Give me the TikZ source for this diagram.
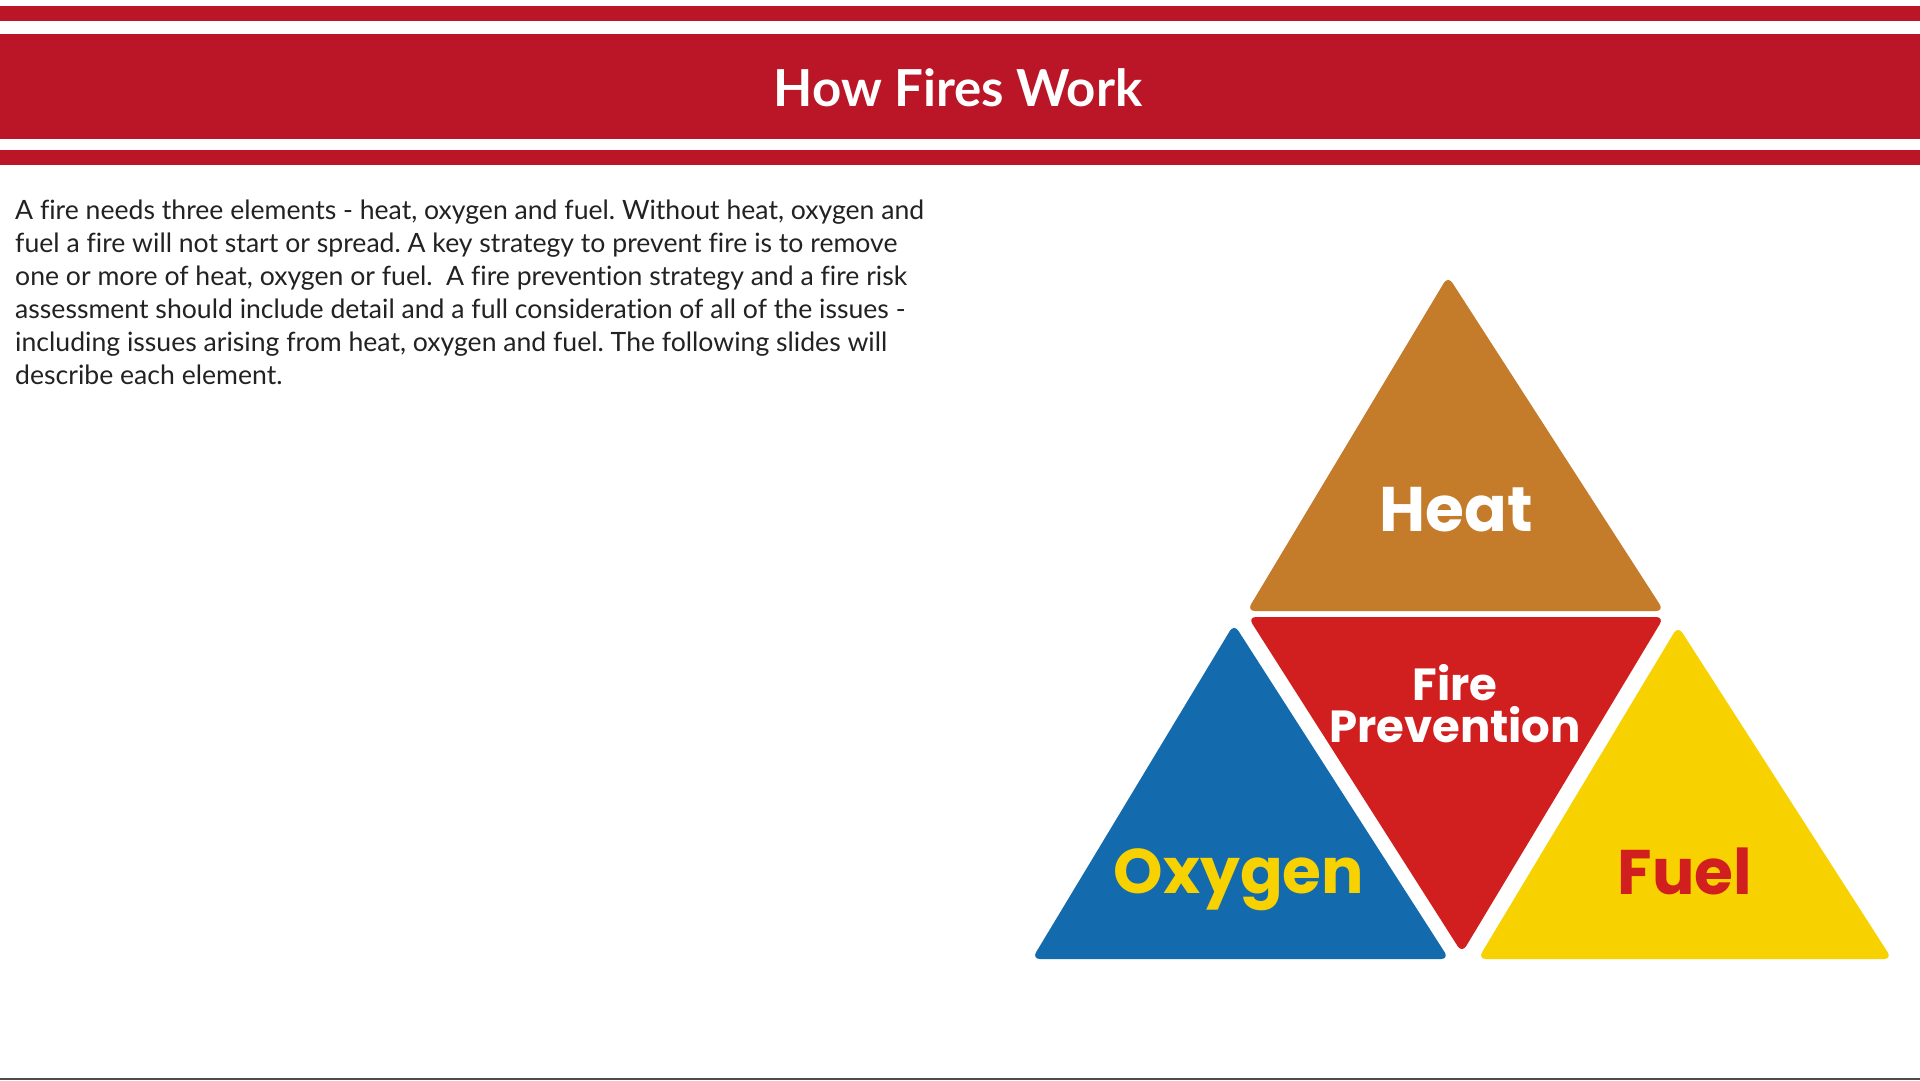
\documentclass[tikz,border=0pt]{standalone}
\usepackage{fontspec}
\setmainfont{Lato}[Ligatures={NoCommon}]
\newfontfamily\pop{Poppins}
\definecolor{hdr}{HTML}{BA1628}
\definecolor{heatc}{HTML}{C47C2B}
\definecolor{firec}{HTML}{D11E1F}
\definecolor{oxyc}{HTML}{136BAE}
\definecolor{fuelc}{HTML}{F7D100}
\definecolor{bodyc}{HTML}{222222}
\tikzset{
  titletext/.style={text=white,font=\bfseries\fontsize{51}{60}\selectfont,inner sep=0pt},
  bodyline/.style={anchor=base west,text=bodyc,font=\frenchspacing\fontsize{26.6}{33}\selectfont,inner sep=0pt},
  trilabel/.style={anchor=base,font=\pop\bfseries\fontsize{63}{70}\selectfont,inner sep=0pt},
  fplabel/.style={anchor=base,text=white,font=\pop\bfseries\fontsize{45}{50}\selectfont,inner sep=0pt},
  tri/.style={rounded corners=8pt}
}
\begin{document}
\begin{tikzpicture}[x=1pt,y=-1pt]
\useasboundingbox (0,0) rectangle (1920,1080);
\fill[white] (0,0) rectangle (1920,1080);
% header bands
\fill[hdr] (0,6) rectangle (1920,21);
\fill[hdr] (0,34) rectangle (1920,139);
\fill[hdr] (0,150) rectangle (1920,165);
\node[titletext] (title) at (958,88) {How Fires Work};
% body text
\node[bodyline] (l1) at (15,219) {A fire needs three elements - heat, oxygen and fuel. Without heat, oxygen and};
\node[bodyline] (l2) at (15,252) {fuel a fire will not start or spread. A key strategy to prevent fire is to remove};
\node[bodyline] (l3) at (15,285) {one or more of heat, oxygen or fuel.\ \ A fire prevention strategy and a fire risk};
\node[bodyline] (l4) at (15,318) {assessment should include detail and a full consideration of all of the issues -};
\node[bodyline] (l5) at (15,351) {including issues arising from heat, oxygen and fuel. The following slides will};
\node[bodyline] (l6) at (15,384) {describe each element.};
% triangles
\fill[heatc,tri] (1448,276) -- (1664,611) -- (1247,611) -- cycle;
\fill[firec,tri] (1248,617) -- (1664,617) -- (1462,953) -- cycle;
\fill[oxyc,tri] (1234,624) -- (1449,959) -- (1032,959) -- cycle;
\fill[fuelc,tri] (1678,626) -- (1892,959) -- (1478,959) -- cycle;
% labels
\node[trilabel,text=white] (heat) at (1456,531) {Heat};
\node[fplabel] (fire) at (1455,700) {Fire};
\node[fplabel] (prev) at (1455,742) {Prevention};
\node[trilabel,text=fuelc] (oxy) at (1239,893) {Oxygen};
\node[trilabel,text=firec] (fuel) at (1685,894) {Fuel};
% bottom line
\fill[gray!60!black] (0,1077.5) rectangle (1920,1080);
\end{tikzpicture}
\end{document}
